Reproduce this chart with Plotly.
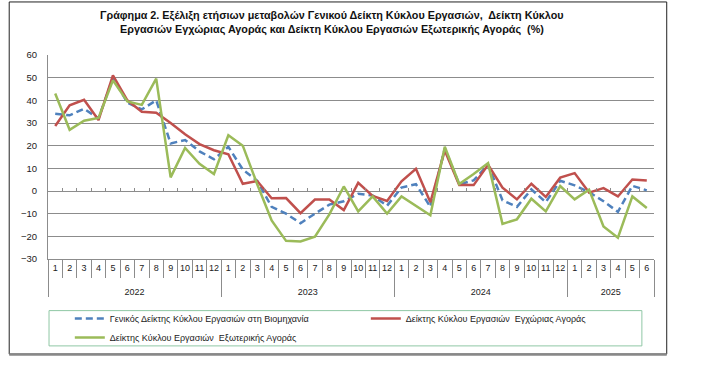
import plotly.graph_objects as go

# ---------------- data ----------------
years = ["2022"] * 12 + ["2023"] * 12 + ["2024"] * 12 + ["2025"] * 6
months = [str(m) for m in list(range(1, 13)) * 3 + list(range(1, 7))]

general = [34.1, 33.4, 36.3, 32.0, 50.0, 39.0, 36.0, 40.0, 21.0, 22.5, 17.5, 14.0,
           19.5, 9.5, 4.5, -7.0, -10.0, -14.2, -10.0, -6.0, -4.5, -1.2, -2.0, -6.5,
           1.5, 3.0, -7.0, 18.7, 3.0, 4.7, 11.6, -4.1, -7.0, 0.7, -4.9, 4.5,
           2.5, -0.5, -4.5, -9.2, 2.3, 0.3]
domestic = [28.7, 37.8, 40.2, 31.3, 51.0, 40.0, 35.0, 34.5, 30.0, 25.0, 20.7, 18.0,
            16.2, 3.2, 4.4, -3.2, -3.1, -9.8, -3.8, -3.7, -8.4, 3.6, -2.2, -4.4,
            4.3, 9.8, -5.0, 17.9, 2.6, 2.6, 11.6, 1.5, -3.7, 3.2, -2.6, 5.9,
            7.9, -0.7, 1.3, -2.4, 5.1, 4.6]
foreign = [43.0, 27.0, 31.0, 32.2, 48.8, 39.5, 38.0, 49.6, 6.0, 19.0, 12.0, 7.5,
           24.6, 20.0, 3.0, -13.0, -22.0, -22.3, -20.2, -10.3, 2.0, -9.0, -2.4, -10.0,
           -2.4, -6.5, -10.7, 19.5, 3.1, 7.5, 12.3, -14.5, -12.5, -3.4, -9.0, 2.2,
           -3.7, 0.6, -15.6, -20.6, -2.4, -7.5]

names = ["Γενικός Δείκτης Κύκλου Εργασιών στη Βιομηχανία",
         "Δείκτης Κύκλου Εργασιών  Εγχώριας Αγοράς",
         "Δείκτης Κύκλου Εργασιών  Εξωτερικής Αγοράς"]
title1 = "Γράφημα 2. Εξέλιξη ετήσιων μεταβολών Γενικού Δείκτη Κύκλου Εργασιών,  Δείκτη Κύκλου"
title2 = "Εργασιών Εγχώριας Αγοράς και Δείκτη Κύκλου Εργασιών Εξωτερικής Αγοράς  (%)"

y_min, y_max, y_step = -30, 60, 10

# ---------------- figure ----------------
FONT = "Liberation Sans"
GRID = "#8c8c8c"
# year labels are shown one line lower than the month row (as in the original)
year_level = ["<br>" + y for y in years]
xcat = [year_level, months]

fig = go.Figure()
fig.add_trace(go.Scatter(x=xcat, y=general, mode="lines", name=names[0],
                         line=dict(color="#4F81BD", width=2.5, dash="7px,4px")))
fig.add_trace(go.Scatter(x=xcat, y=domestic, mode="lines", name=names[1],
                         line=dict(color="#C0504D", width=2.5)))
fig.add_trace(go.Scatter(x=xcat, y=foreign, mode="lines", name=names[2],
                         line=dict(color="#9BBB59", width=2.5)))

n = len(months)
boundaries = [i - 0.5 for i in range(n + 1)]
# invisible trace to carry the small tick marks on the zero line
fig.add_trace(go.Scatter(x=[0], y=[None], xaxis="x2", showlegend=False, hoverinfo="skip"))

zero_pos = (0 - y_min) / (y_max - y_min)

fig.update_layout(
    width=701, height=367,
    paper_bgcolor="white", plot_bgcolor="white",
    margin=dict(l=48, r=47, t=55, b=108),
    font=dict(family=FONT, size=9, color="#222"),
    xaxis=dict(type="multicategory", range=[-0.5, n - 0.5], showgrid=False,
               showline=True, linecolor=GRID,
               ticks="outside", tickson="boundaries", ticklen=18, tickcolor=GRID,
               tickangle=0, automargin=False, ticklabelstandoff=0,
               showdividers=True, dividercolor=GRID, dividerwidth=1,
               tickfont=dict(size=9, family=FONT, color="#222")),
    xaxis2=dict(overlaying="x", anchor="free", position=zero_pos,
                range=[-0.5, n - 0.5], tickvals=boundaries, ticks="inside", ticklen=3,
                tickcolor=GRID, showticklabels=False, showgrid=False, zeroline=False,
                showline=False, automargin=False),
    yaxis=dict(range=[y_min, y_max], dtick=y_step, tick0=0, showgrid=True,
               gridcolor=GRID, gridwidth=1, zeroline=True, zerolinecolor=GRID,
               zerolinewidth=1, showline=True, linecolor=GRID, ticks="",
               automargin=False,
               ticklabelstandoff=8, tickfont=dict(size=9.5, family=FONT, color="#222")),
    legend=dict(orientation="h", x=0.036, y=-0.220, xanchor="left", yanchor="top",
                entrywidth=251, itemwidth=30, borderwidth=0, bgcolor="rgba(0,0,0,0)",
                font=dict(size=9, family=FONT, color="#222"), traceorder="normal"),
    annotations=[
        dict(text="<b>" + title1 + "</b>", x=0.469, xref="paper", y=1.196, yref="paper",
             showarrow=False, xanchor="center", yanchor="middle",
             font=dict(size=10.8, family=FONT, color="#111")),
        dict(text="<b>" + title2 + "</b>", x=0.469, xref="paper", y=1.123, yref="paper",
             showarrow=False, xanchor="center", yanchor="middle",
             font=dict(size=10.8, family=FONT, color="#111")),
    ],
    shapes=[
        # outer chart frame
        dict(type="rect", xref="paper", yref="paper", x0=-0.064, x1=1.021, y0=-0.466, y1=1.26,
             line=dict(color="#222", width=1), layer="below"),
        dict(type="line", xref="paper", yref="paper", x0=-0.064, x1=1.021, y0=-0.468, y1=-0.468,
             line=dict(color="#888", width=2.5)),
        # legend box
        dict(type="rect", xref="paper", yref="paper", x0=0.0017, x1=0.980, y0=-0.426, y1=-0.253,
             line=dict(color="#8fc7a5", width=1), layer="below"),
    ],
)

fig.write_html("out.html", config={"displayModeBar": False},
               post_script="document.body.style.margin='0';document.body.style.overflow='hidden';")
